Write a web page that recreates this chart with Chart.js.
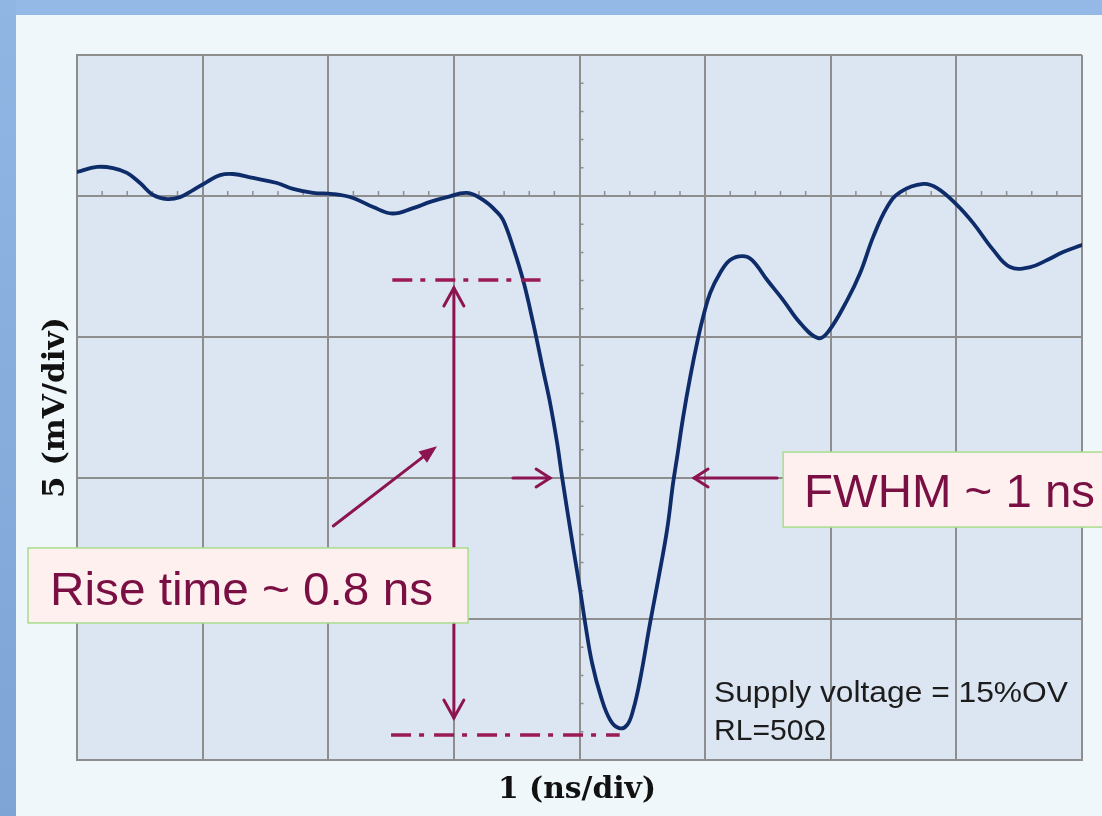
<!DOCTYPE html>
<html><head><meta charset="utf-8">
<script src="https://cdn.jsdelivr.net/npm/chart.js@4.4.0/dist/chart.umd.min.js"></script>
<style>
html,body{margin:0;padding:0;width:1102px;height:816px;overflow:hidden;background:#94b9e6;}
#frame{position:absolute;left:0;top:0;width:16px;height:816px;background:linear-gradient(#90b6e4,#7ea4d6);}
#inner{position:absolute;left:16px;top:15px;right:0;bottom:0;background:#f0f7fa;}
canvas{position:absolute;left:0;top:0;}
</style></head><body>
<div id="frame"></div><div id="inner"></div>
<canvas id="c" width="1102" height="816"></canvas>
<script>
// Time axis (ns) and signal (mV)
const timeNs = [0,0.159,0.287,0.398,0.502,0.605,0.717,0.820,0.924,1.035,1.139,1.242,1.401,1.592,1.720,1.879,2.038,2.197,2.357,2.51,2.675,2.811,2.946,3.105,3.232,3.344,3.392,3.471,3.551,3.631,3.710,3.766,3.822,3.861,3.949,4.005,4.045,4.100,4.172,4.244,4.315,4.379,4.427,4.482,4.562,4.626,4.697,4.745,4.777,4.825,4.881,4.944,4.984,5.040,5.119,5.199,5.295,5.374,5.494,5.621,5.756,5.900,5.979,6.131,6.234,6.338,6.449,6.553,6.736,6.847,7.006,7.134,7.293,7.428,7.588,7.723,7.850,8.0];
const signalMV = [0.85,1.03,0.99,0.82,0.46,0.04,-0.11,-0.04,0.21,0.50,0.74,0.78,0.64,0.46,0.25,0.11,0.07,-0.07,-0.39,-0.62,-0.43,-0.21,-0.04,0.11,-0.14,-0.57,-0.85,-1.81,-2.98,-4.50,-6.17,-7.34,-8.76,-9.96,-12.45,-13.97,-15.14,-16.56,-17.77,-18.58,-18.87,-18.76,-18.23,-17.16,-15.14,-13.62,-11.84,-10.18,-9.26,-7.84,-6.42,-5.04,-4.29,-3.44,-2.73,-2.27,-2.13,-2.27,-2.98,-3.69,-4.50,-5.04,-4.82,-3.69,-2.73,-1.45,-0.39,0.14,0.43,0.28,-0.32,-0.96,-1.91,-2.52,-2.52,-2.27,-1.99,-1.74];
const xTicks = [0,1,2,3,4,5,6,7,8];
const yTicks = [5,0,-5,-10,-15,-20];
const xTitle = '1 (ns/div)';
const yTitle = '5 (mV/div)';
const riseLabel = 'Rise time ~ 0.8 ns';
const fwhmLabel = 'FWHM ~ 1 ns';
const noteLines = ['Supply voltage = 15%OV', 'RL=50\u03A9'];

const ACC = '#8c1450';
const TXT = '#7a0f44';

function head(ctx, tx, ty, fx, fy, len, half, filled){
  const dx = tx-fx, dy = ty-fy, d = Math.hypot(dx,dy);
  const ux = dx/d, uy = dy/d, px = -uy, py = ux;
  const bx = tx-ux*len, by = ty-uy*len;
  ctx.beginPath();
  ctx.moveTo(bx+px*half, by+py*half);
  ctx.lineTo(tx, ty);
  ctx.lineTo(bx-px*half, by-py*half);
  if(filled){ctx.closePath();ctx.fill();} else ctx.stroke();
}
// draw text stretched to a target width
function fitText(ctx, s, x, y, w){
  const m = ctx.measureText(s).width;
  ctx.save(); ctx.translate(x, y); ctx.scale(w/m, 1); ctx.fillText(s, 0, 0); ctx.restore();
}

const bgPlugin = {
  id:'bg',
  beforeDraw(chart){
    const {ctx, chartArea:a} = chart;
    ctx.save(); ctx.fillStyle = '#dce6f2';
    ctx.fillRect(a.left, a.top, a.right-a.left, a.bottom-a.top);
    ctx.restore();
  },
  beforeDatasetsDraw(chart){
    const {ctx, scales:{x,y}} = chart;
    ctx.save(); ctx.strokeStyle = '#8e8e8e'; ctx.lineWidth = 1.5;
    const y0 = y.getPixelForValue(0), x4 = x.getPixelForValue(4);
    ctx.beginPath();
    for(let i=1;i<40;i++){ if(i%5===0) continue; const px = x.getPixelForValue(i*0.2); ctx.moveTo(px,y0); ctx.lineTo(px,y0-5); }
    for(let v=-19; v<5; v++){ if(v%5===0) continue; const py = y.getPixelForValue(v); ctx.moveTo(x4,py); ctx.lineTo(x4+4,py); }
    ctx.stroke(); ctx.restore();
  },
  afterDraw(chart){
    const {ctx, scales:{x,y}} = chart;
    const X = v=>x.getPixelForValue(v), Y = v=>y.getPixelForValue(v);
    ctx.save();
    // dash-dot level lines
    ctx.strokeStyle = '#9a1a55'; ctx.lineWidth = 3.5; ctx.setLineDash([20,8,5,10]);
    ctx.beginPath(); ctx.moveTo(X(2.51),Y(-2.98)); ctx.lineTo(X(3.69),Y(-2.98)); ctx.stroke();
    ctx.beginPath(); ctx.moveTo(X(2.50),Y(-19.11)); ctx.lineTo(X(4.32),Y(-19.11)); ctx.stroke();
    ctx.setLineDash([]);
    ctx.strokeStyle = ACC; ctx.fillStyle = ACC; ctx.lineWidth = 3; ctx.lineCap='round';
    // vertical double arrow
    const ax = X(3.0), at = Y(-3.26), ab = Y(-18.51);
    ctx.beginPath(); ctx.moveTo(ax,at); ctx.lineTo(ax,ab); ctx.stroke();
    head(ctx, ax, at, ax, ab, 18, 10, false);
    head(ctx, ax, ab, ax, at, 18, 10, false);
    // diagonal pointer
    const dfx = X(2.04), dfy = Y(-11.7), dtx = X(2.866), dty = Y(-8.87);
    ctx.beginPath(); ctx.moveTo(dfx,dfy); ctx.lineTo(dtx-(dtx-dfx)*0.1, dty-(dty-dfy)*0.1); ctx.stroke();
    head(ctx, dtx, dty, dfx, dfy, 18, 7, true);
    // FWHM arrows
    const fy = Y(-10.0);
    ctx.beginPath(); ctx.moveTo(X(3.47),fy); ctx.lineTo(X(3.766),fy); ctx.stroke();
    head(ctx, X(3.766), fy, X(3.47), fy, 14, 9, false);
    ctx.beginPath(); ctx.moveTo(X(5.573),fy); ctx.lineTo(X(4.912),fy); ctx.stroke();
    head(ctx, X(4.912), fy, X(5.573), fy, 14, 9, false);
    // boxes
    ctx.lineWidth = 1.5; ctx.strokeStyle = '#a9dd8c'; ctx.fillStyle = '#fff0f0';
    let l = X(-0.39), t = Y(-12.48), r = X(3.113), b = Y(-15.14);
    ctx.fillRect(l,t,r-l,b-t); ctx.strokeRect(l,t,r-l,b-t);
    l = X(5.621); t = Y(-9.08); r = X(8.3); b = Y(-11.74);
    ctx.fillRect(l,t,r-l,b-t); ctx.strokeRect(l,t,r-l,b-t);
    ctx.fillStyle = TXT; ctx.textBaseline = 'alphabetic';
    ctx.font = '46px "Liberation Sans", Arial, sans-serif';
    fitText(ctx, riseLabel, 50, 605, 383);
    ctx.font = '47px "Liberation Sans", Arial, sans-serif';
    fitText(ctx, fwhmLabel, 804, 507, 291);
    // note
    ctx.fillStyle = '#1c1c1c'; ctx.font = '30px "Liberation Sans", Arial, sans-serif';
    fitText(ctx, noteLines[0], 714, 702, 354);
    fitText(ctx, noteLines[1], 714, 740, 112);
    // axis titles
    ctx.fillStyle = '#111'; ctx.font = 'bold 30px "DejaVu Serif", serif';
    fitText(ctx, xTitle, 498, 798, 158);
    ctx.translate(64, 498); ctx.rotate(-Math.PI/2);
    fitText(ctx, yTitle, 0, 0, 181);
    ctx.restore();
  }
};

new Chart(document.getElementById('c'), {
  type:'line',
  data:{ datasets:[{ data: timeNs.map((t,i)=>({x:t, y:signalMV[i]})), borderColor:'#0e2c6a', borderWidth:3.8, pointRadius:0, tension:0.4, fill:false, borderCapStyle:'round', borderJoinStyle:'round' }]},
  options:{
    responsive:false, animation:false,
    layout:{padding:{left:77, top:55, right:20, bottom:56}},
    plugins:{legend:{display:false}, tooltip:{enabled:false}},
    scales:{
      x:{type:'linear', min:0, max:8, afterBuildTicks:s=>{s.ticks = xTicks.map(v=>({value:v}));}, afterFit:s=>{s.height=0;},
         ticks:{display:false}, grid:{color:'#8e8e8e', lineWidth:2, drawTicks:false}, border:{display:true,color:'#8e8e8e',width:2}},
      y:{type:'linear', min:-20, max:5, afterBuildTicks:s=>{s.ticks = yTicks.map(v=>({value:v}));}, afterFit:s=>{s.width=0;},
         ticks:{display:false}, grid:{color:'#8e8e8e', lineWidth:2, drawTicks:false}, border:{display:true,color:'#8e8e8e',width:2}}
    }
  },
  plugins:[bgPlugin]
});
</script>
</body></html>
